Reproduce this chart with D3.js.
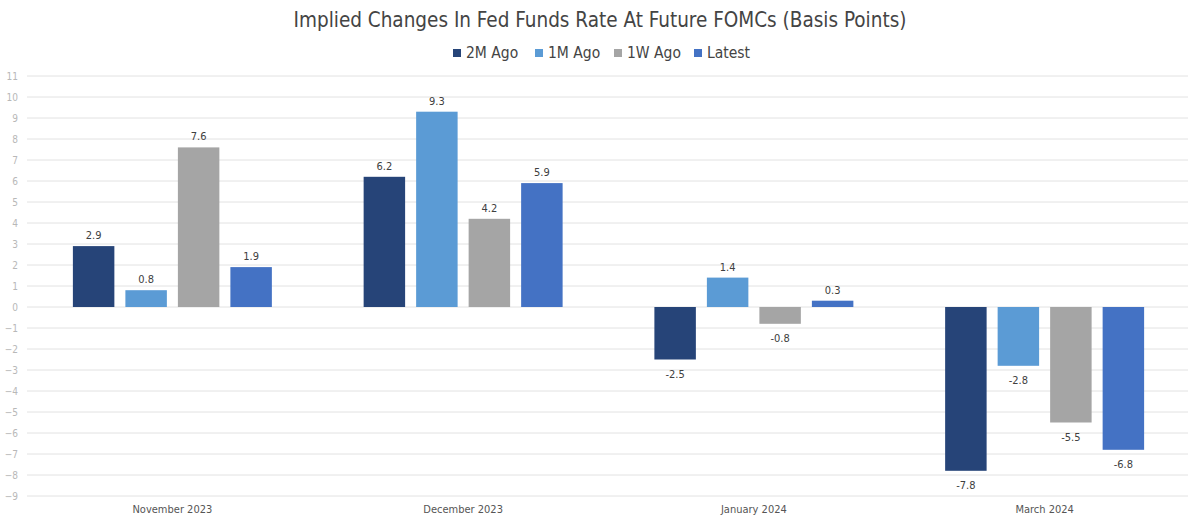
<!DOCTYPE html>
<html lang="en">
<head>
    <meta charset="UTF-8">
    <title>Implied Changes In Fed Funds Rate At Future FOMCs</title>
    <style>
        body { margin: 0; background: #fff; }
        text { font-family: "DejaVu Sans Condensed", "Roboto", sans-serif; }
    </style>
</head>
<body>
    <div id="chart"></div>

    <script src="https://cdn.jsdelivr.net/npm/d3@7"></script>

    <script>
        const meetings = ["November 2023", "December 2023", "January 2024", "March 2024"];
        const seriesNames = ["2M Ago", "1M Ago", "1W Ago", "Latest"];
        const seriesColors = ["#264478", "#5b9bd5", "#a5a5a5", "#4472c4"];
        const ago2M = [2.9, 6.2, -2.5, -7.8];
        const ago1M = [0.8, 9.3, 1.4, -2.8];
        const ago1W = [7.6, 4.2, -0.8, -5.5];
        const latest = [1.9, 5.9, 0.3, -6.8];
        const yTicks = d3.range(-9, 12);

        const seriesValues = [ago2M, ago1M, ago1W, latest];
        const rows = [];
        meetings.forEach((m, i) => {
            seriesNames.forEach((s, j) => {
                rows.push({ meeting: m, series: s, value: seriesValues[j][i] });
            });
        });

        const width = 1200, height = 523;
        const svg = d3.select("#chart")
            .append("svg")
            .attr("width", width)
            .attr("height", height);

        const x0 = d3.scaleBand()
            .domain(meetings)
            .range([27, 1190]);

        const x1 = d3.scaleBand()
            .domain(seriesNames)
            .range([0, x0.bandwidth()])
            .paddingInner(0.21)
            .paddingOuter(0.874);

        const y = d3.scaleLinear()
            .domain([-9, 11])
            .range([496, 76]);

        const color = d3.scaleOrdinal().domain(seriesNames).range(seriesColors);

        // gridlines
        svg.append("g")
            .selectAll("line")
            .data(yTicks)
            .enter()
            .append("line")
            .attr("x1", 27)
            .attr("x2", 1188)
            .attr("y1", d => y(d))
            .attr("y2", d => y(d))
            .attr("stroke", "#e2e2e2")
            .attr("stroke-width", 1);

        // y axis labels
        const yAxis = svg.append("g")
            .attr("transform", "translate(18,0)")
            .call(d3.axisLeft(y).tickValues(yTicks).tickSize(0).tickPadding(0));
        yAxis.select(".domain").remove();
        yAxis.selectAll("text")
            .attr("fill", "#b8b8b8")
            .style("font-size", "10px");

        // x axis labels
        const xAxis = svg.append("g")
            .attr("transform", "translate(0,503)")
            .call(d3.axisBottom(x0).tickSize(0).tickPadding(0));
        xAxis.select(".domain").remove();
        xAxis.selectAll("text")
            .attr("fill", "#555")
            .attr("dy", "0.9em")
            .style("font-size", "11px");

        // bars
        const bar = svg.selectAll(".bar")
            .data(rows)
            .enter()
            .append("g")
            .attr("transform", d => "translate(" + (x0(d.meeting) + x1(d.series)) + ",0)");

        bar.append("rect")
            .attr("class", "bar")
            .attr("y", d => y(Math.max(0, d.value)))
            .attr("width", x1.bandwidth())
            .attr("height", d => Math.abs(y(d.value) - y(0)))
            .attr("fill", d => color(d.series));

        bar.append("text")
            .attr("x", x1.bandwidth() / 2)
            .attr("y", d => d.value >= 0 ? y(d.value) - 7 : y(d.value) + 18)
            .attr("text-anchor", "middle")
            .attr("fill", "#404040")
            .style("font-size", "11px")
            .text(d => d.value.toFixed(1));

        // title
        svg.append("text")
            .attr("x", 600)
            .attr("y", 27)
            .attr("text-anchor", "middle")
            .attr("fill", "#444")
            .style("font-size", "20.5px")
            .text("Implied Changes In Fed Funds Rate At Future FOMCs (Basis Points)");

        // legend
        const legendX = [453, 535, 614, 694];
        const legend = svg.append("g")
            .selectAll("g")
            .data(seriesNames)
            .enter()
            .append("g")
            .attr("transform", (d, i) => "translate(" + legendX[i] + ",53)");
        legend.append("rect")
            .attr("y", -4)
            .attr("width", 8)
            .attr("height", 8)
            .attr("fill", d => color(d));
        legend.append("text")
            .attr("x", 13)
            .attr("dy", "0.35em")
            .attr("fill", "#444")
            .style("font-size", "15.5px")
            .text(d => d);
    </script>
</body>
</html>
